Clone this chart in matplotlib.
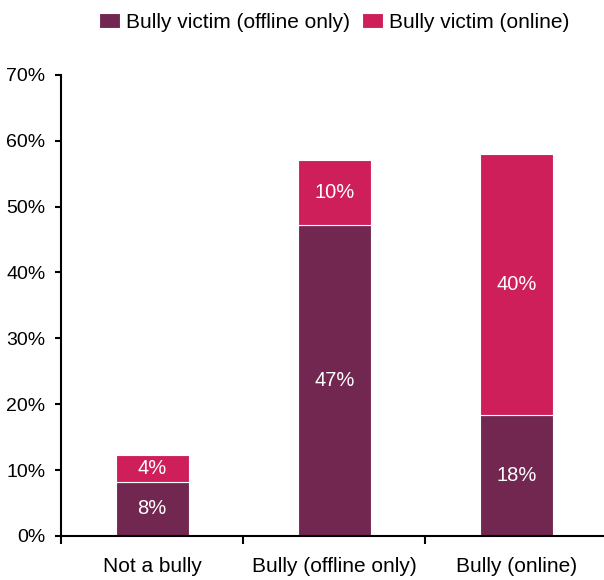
import matplotlib
matplotlib.use("Agg")
import matplotlib.pyplot as plt
import numpy as np

plt.rcParams['font.family'] = ['Liberation Sans', 'DejaVu Sans']

categories = ["Not a bully", "Bully (offline only)", "Bully (online)"]
offline_only = [8.2, 47.2, 18.4]
online = [4.1, 9.9, 39.6]
series_names = ["Bully victim (offline only)", "Bully victim (online)"]
colors = ["#722751", "#CE1F5A"]

fig = plt.figure(figsize=(6.04, 5.8), dpi=100)
ax = fig.add_axes([0.101, 0.076, 0.905, 0.795])

x = np.arange(len(categories))
w = 0.4
b1 = ax.bar(x, offline_only, w, color=colors[0], label=series_names[0], edgecolor="white", linewidth=0.8)
b2 = ax.bar(x, online, w, bottom=offline_only, color=colors[1], label=series_names[1], edgecolor="white", linewidth=0.8)

for i in range(len(categories)):
    ax.text(x[i], offline_only[i] / 2, "%d%%" % round(offline_only[i]), ha="center", va="center",
            color="white", fontsize=14.5)
    ax.text(x[i], offline_only[i] + online[i] / 2, "%d%%" % round(online[i]), ha="center", va="center",
            color="white", fontsize=14.5)

ax.set_xlim(-0.5, 2.5)
ax.set_ylim(0, 70)
ax.set_yticks(range(0, 71, 10))
ax.set_yticklabels(["%d%%" % v for v in range(0, 71, 10)], fontsize=14)
ax.set_xticks(x)
ax.set_xticklabels(categories, fontsize=15)
ax.set_xticks([-0.5, 0.5, 1.5], minor=True)
ax.tick_params(axis="x", which="major", length=0, pad=15)
ax.tick_params(axis="x", which="minor", length=6, width=1.5, direction="out")
ax.tick_params(axis="y", length=4.3, width=1.5, direction="out", pad=7)

for s in ["top", "right"]:
    ax.spines[s].set_visible(False)
for s in ["left", "bottom"]:
    ax.spines[s].set_linewidth(1.5)
    ax.spines[s].set_color("black")

fig.legend(handles=[b1, b2], labels=series_names, loc="center", bbox_to_anchor=(0.553, 0.962),
           ncol=2, frameon=False, fontsize=15, handlelength=1.0, handleheight=0.72,
           handletextpad=0.29, columnspacing=0.6, borderpad=0)

fig.savefig("out.png", dpi=100)
